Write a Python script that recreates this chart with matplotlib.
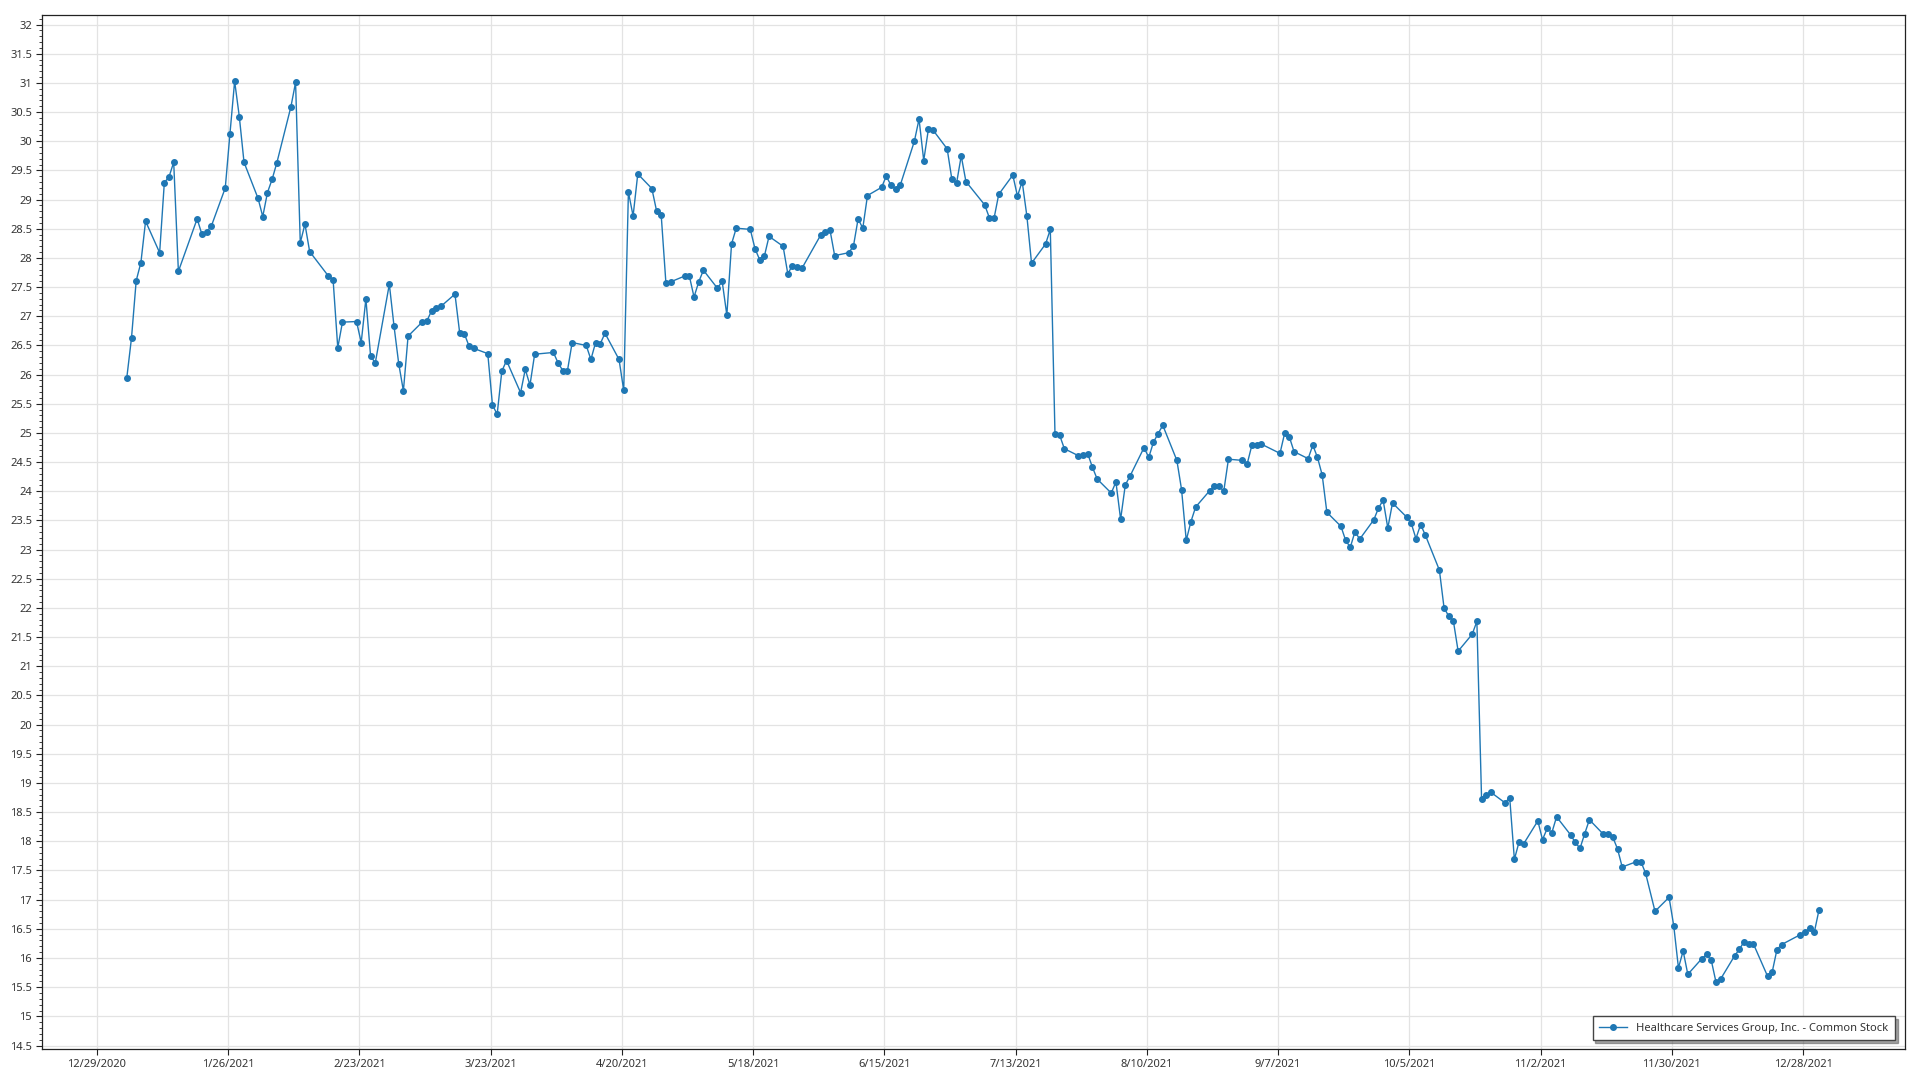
#!/usr/bin/env python3
"""
Daily closing price chart - Healthcare Services Group, Inc. (2021)
"""

import numpy as np
import pandas as pd
import matplotlib
matplotlib.use('Agg')
import matplotlib.pyplot as plt
import matplotlib.dates as mdates
from matplotlib.ticker import MultipleLocator, FormatStrFormatter

# NYSE holidays 2021 (market closed)
HOLIDAYS = ['2021-01-01', '2021-01-18', '2021-02-15', '2021-04-02', '2021-05-31',
            '2021-07-05', '2021-09-06', '2021-11-25', '2021-12-24']

# closing prices per month, one value per trading day
jan = [25.95, 26.63, 27.61, 27.92, 28.63, 28.09, 29.29, 29.39, 29.64, 27.77,
       28.67, 28.41, 28.45, 28.54, 29.20, 30.13, 31.03, 30.42, 29.64]
feb = [29.02, 28.71, 29.12, 29.35, 29.63, 30.59, 31.01, 28.26, 28.58, 28.11,
       27.69, 27.63, 26.46, 26.90, 26.91, 26.55, 27.30, 26.32, 26.20]
mar = [27.55, 26.83, 26.19, 25.72, 26.66, 26.90, 26.92, 27.09, 27.15, 27.17,
       27.38, 26.72, 26.70, 26.49, 26.45, 26.36, 25.48, 25.32, 26.06, 26.24,
       25.69, 26.09, 25.82]
apr = [26.35, 26.38, 26.20, 26.07, 26.07, 26.55, 26.50, 26.26, 26.55, 26.53,
       26.71, 26.26, 25.73, 29.13, 28.72, 29.44, 29.19, 28.81, 28.73, 27.57,
       27.59]
may = [27.69, 27.69, 27.33, 27.59, 27.79, 27.48, 27.60, 27.02, 28.24, 28.51,
       28.49, 28.16, 27.97, 28.03, 28.37, 28.20, 27.73, 27.87, 27.84, 27.82]
jun = [28.39, 28.45, 28.48, 28.04, 28.09, 28.20, 28.67, 28.51, 29.07, 29.21,
       29.40, 29.25, 29.18, 29.25, 30.00, 30.38, 29.67, 30.21, 30.19, 29.87,
       29.35, 29.28]
jul = [29.75, 29.31, 28.91, 28.69, 28.68, 29.09, 29.42, 29.06, 29.31, 28.72,
       27.91, 28.24, 28.49, 24.98, 24.96, 24.73, 24.61, 24.63, 24.64, 24.41,
       24.21]
aug = [23.97, 24.16, 23.52, 24.11, 24.26, 24.75, 24.58, 24.84, 24.99, 25.13,
       24.53, 24.03, 23.16, 23.48, 23.73, 24.01, 24.09, 24.09, 24.00, 24.55,
       24.53, 24.47]
sep = [24.79, 24.80, 24.81, 24.65, 25.00, 24.93, 24.68, 24.56, 24.79, 24.58,
       24.28, 23.64, 23.40, 23.16, 23.04, 23.31, 23.18, 23.51, 23.71, 23.85,
       23.37]
oct_ = [23.80, 23.56, 23.45, 23.19, 23.43, 23.25, 22.65, 22.00, 21.86, 21.77,
        21.26, 21.55, 21.77, 18.73, 18.79, 18.84, 18.66, 18.75, 17.69, 17.99,
        17.96]
nov = [18.35, 18.03, 18.22, 18.15, 18.42, 18.11, 17.98, 17.88, 18.13, 18.37,
       18.12, 18.13, 18.07, 17.87, 17.56, 17.65, 17.65, 17.45, 16.80, 17.04,
       16.55]
dec = [15.83, 16.12, 15.72, 15.99, 16.06, 15.96, 15.59, 15.64, 16.04, 16.15,
       16.28, 16.24, 16.24, 15.69, 15.76, 16.14, 16.23, 16.40, 16.44, 16.51,
       16.45, 16.83]

SERIES_NAME = 'Healthcare Services Group, Inc. - Common Stock'
LINE_COLOR = '#1f77b4'
GRID_COLOR = '#e3e3e3'
TEXT_COLOR = '#333333'

plt.rcParams['font.family'] = ['Noto Sans', 'DejaVu Sans']


def build_dates():
    """Trading days of 2021, stamped a few hours into each day"""
    days = pd.bdate_range('2021-01-01', '2021-12-31')
    days = days[~days.isin(pd.to_datetime(HOLIDAYS))]
    return days + pd.Timedelta(hours=10)


def main():
    prices = jan + feb + mar + apr + may + jun + jul + aug + sep + oct_ + nov + dec
    dates = build_dates()

    fig = plt.figure(figsize=(19.2, 10.8), dpi=100)
    ax = fig.add_axes([0.0217, 0.0287, 0.9705, 0.9577])

    ax.plot(dates, prices, color=LINE_COLOR, linewidth=1.0, marker='o',
            markersize=4, label=SERIES_NAME)

    # axes limits
    ax.set_xlim(pd.Timestamp('2020-12-17 06:00'), pd.Timestamp('2022-01-18 18:00'))
    ax.set_ylim(14.44, 32.17)

    # ticks every 4 weeks starting 12/29/2020
    ticks = pd.date_range('2020-12-29', '2021-12-28', freq='28D')
    ax.set_xticks(ticks)
    ax.set_xticklabels([f"{t.month}/{t.day}/{t.year}" for t in ticks])
    ax.yaxis.set_major_locator(MultipleLocator(0.5))
    ax.yaxis.set_minor_locator(MultipleLocator(0.1))
    ax.yaxis.set_major_formatter(FormatStrFormatter('%g'))

    ax.tick_params(axis='both', which='major', labelsize=8, colors='#222222',
                   labelcolor=TEXT_COLOR, length=4, width=0.8)
    ax.tick_params(axis='y', which='minor', length=2, width=0.6, colors='#222222')
    ax.tick_params(axis='x', pad=3)
    ax.tick_params(axis='y', pad=3)

    ax.grid(True, which='major', color=GRID_COLOR, linewidth=0.9)
    ax.set_axisbelow(True)
    for side in ['left', 'bottom', 'top', 'right']:
        ax.spines[side].set_color('#222222')
        ax.spines[side].set_linewidth(0.9)

    leg = ax.legend(loc='lower right', fontsize=8, frameon=True, fancybox=False,
                    shadow=True, borderpad=0.6, handlelength=2.5, borderaxespad=0,
                    bbox_to_anchor=(0.9945, 0.0085))
    leg.get_frame().set_edgecolor('#444444')
    leg.get_frame().set_linewidth(1.0)
    for txt in leg.get_texts():
        txt.set_color(TEXT_COLOR)

    plt.savefig('out.png', dpi=100)
    plt.close(fig)


if __name__ == "__main__":
    main()
